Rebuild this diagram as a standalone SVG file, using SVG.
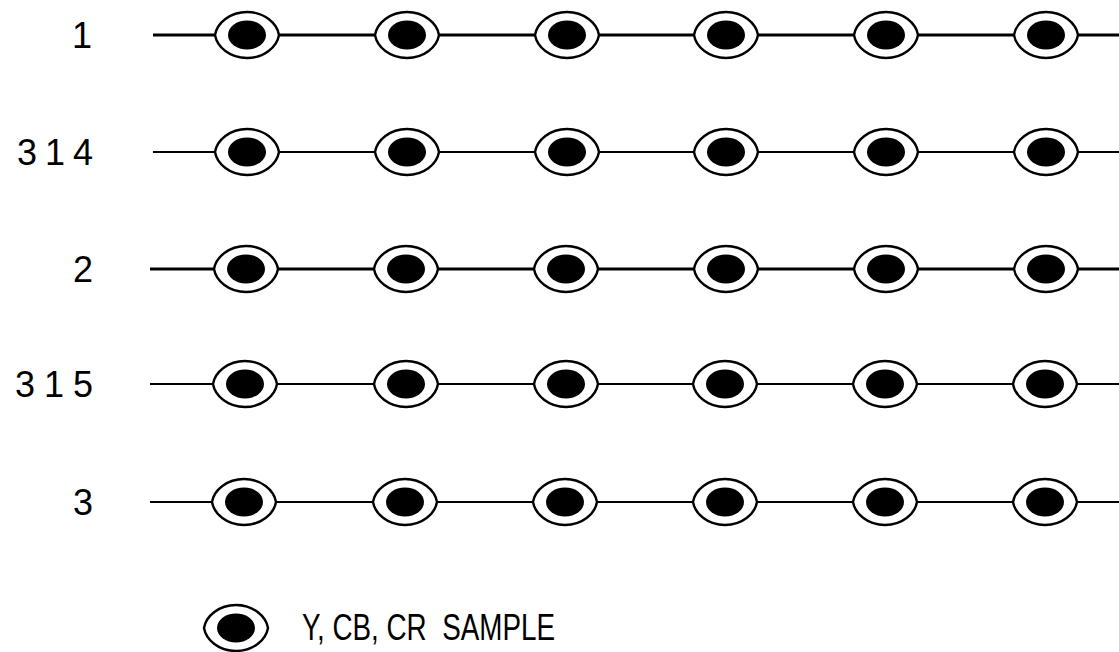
<svg xmlns="http://www.w3.org/2000/svg" width="1119" height="652" viewBox="0 0 1119 652">
  <defs>
    <style>
      .lbl { font-family: "Liberation Sans", Arial, sans-serif; font-size: 36px; fill: #000; }
      .line { stroke: #000; fill: none; }
      .thick { stroke-width: 3; }
      .thin { stroke-width: 2; }
    </style>
    <!-- sample marker: outer ring with a solid core -->
    <g id="sample">
      <path d="M -32 0 C -30 -12 -17 -23 0 -23 C 17 -23 30 -12 32 0 C 30 12 17 23 0 23 C -17 23 -30 12 -32 0 Z" fill="#fff" stroke="#000" stroke-width="2.4"/>
      <ellipse cx="0" cy="0" rx="19" ry="14.5" fill="#000"/>
    </g>
  </defs>
  <rect width="1119" height="652" fill="#fff"/>

  <!-- line labels -->
  <g id="labels">
    <text class="lbl" x="92" y="48" text-anchor="end">1</text>
    <text class="lbl" x="17" y="165" textLength="76" lengthAdjust="spacing">314</text>
    <text class="lbl" x="93" y="282" text-anchor="end">2</text>
    <text class="lbl" x="15" y="397" textLength="78" lengthAdjust="spacing">315</text>
    <text class="lbl" x="93" y="515" text-anchor="end">3</text>
  </g>

  <!-- scan lines -->
  <g id="connectors">
    <line class="line thick" x1="153" y1="35" x2="1119" y2="35"/>
    <line class="line thin" x1="153" y1="152" x2="1119" y2="152"/>
    <line class="line thick" x1="150" y1="269" x2="1119" y2="269"/>
    <line class="line thin" x1="150" y1="384" x2="1119" y2="384"/>
    <line class="line thin" x1="150" y1="502" x2="1119" y2="502"/>
  </g>

  <g id="row-1">
    <use href="#sample" x="247" y="35"/>
    <use href="#sample" x="407" y="35"/>
    <use href="#sample" x="567" y="35"/>
    <use href="#sample" x="726" y="35"/>
    <use href="#sample" x="886" y="35"/>
    <use href="#sample" x="1046" y="35"/>
  </g>
  <g id="row-314">
    <use href="#sample" x="247" y="152"/>
    <use href="#sample" x="407" y="152"/>
    <use href="#sample" x="567" y="152"/>
    <use href="#sample" x="726" y="152"/>
    <use href="#sample" x="886" y="152"/>
    <use href="#sample" x="1046" y="152"/>
  </g>
  <g id="row-2">
    <use href="#sample" x="246" y="269"/>
    <use href="#sample" x="406" y="269"/>
    <use href="#sample" x="566" y="269"/>
    <use href="#sample" x="726" y="269"/>
    <use href="#sample" x="886" y="269"/>
    <use href="#sample" x="1046" y="269"/>
  </g>
  <g id="row-315">
    <use href="#sample" x="245" y="384"/>
    <use href="#sample" x="406" y="384"/>
    <use href="#sample" x="566" y="384"/>
    <use href="#sample" x="725" y="384"/>
    <use href="#sample" x="885" y="384"/>
    <use href="#sample" x="1045" y="384"/>
  </g>
  <g id="row-3">
    <use href="#sample" x="244" y="502"/>
    <use href="#sample" x="405" y="502"/>
    <use href="#sample" x="565" y="502"/>
    <use href="#sample" x="725" y="502"/>
    <use href="#sample" x="885" y="502"/>
    <use href="#sample" x="1045" y="502"/>
  </g>

  <!-- legend -->
  <g id="legend">
    <use href="#sample" x="236" y="628"/>
    <text class="lbl" x="302" y="640" textLength="253" lengthAdjust="spacingAndGlyphs" xml:space="preserve">Y, CB, CR  SAMPLE</text>
  </g>
</svg>
